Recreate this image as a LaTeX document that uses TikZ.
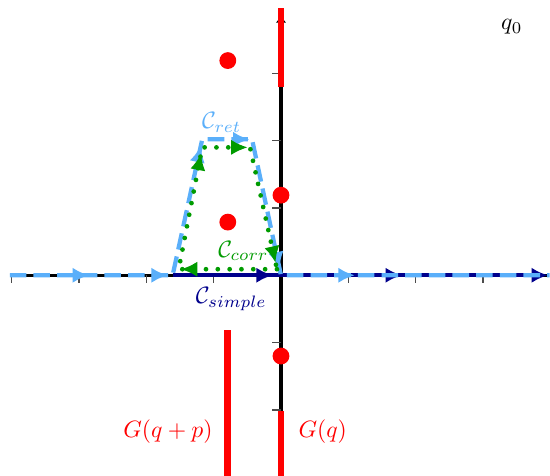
\documentclass[tikz,border=0pt]{standalone}
\usetikzlibrary{decorations.markings,arrows.meta}
\definecolor{retblue}{RGB}{90,175,250}
\definecolor{simpnavy}{RGB}{0,0,140}
\definecolor{corrgreen}{RGB}{0,155,0}
\tikzset{
  axisline/.style={black, line width=1.4pt},
  tickmark/.style={black!70, line width=0.6pt},
  redbar/.style={red, line width=2.9pt},
  pole/.style={fill=red, circle, inner sep=0pt, minimum size=0.25cm},
  tipmark/.style={postaction={decorate, decoration={markings,
      mark=at position #1 with {\arrow{Latex[length=7pt,width=6.5pt]}}}}},
  retpath/.style={retblue, line width=1.8pt, dash pattern=on 7pt off 3pt},
  simppath/.style={simpnavy, line width=1.8pt},
  corrpath/.style={corrgreen, line width=2pt, line cap=round, dash pattern=on 0pt off 5pt},
  lbl/.style={inner sep=0pt}
}
\begin{document}
\begin{tikzpicture}
\useasboundingbox (-4.175,-2.98) rectangle (3.997,4.09);
% axes
\draw[axisline] (-4.03,0) -- (3.97,0);
\draw[axisline, -{Latex[length=3pt,width=4.5pt,open]}] (0,-2.98) -- (0,3.86);
% ticks
\foreach \x in {-4,-3,-2,-1,1,2,3} \draw[tickmark] (\x,0) -- (\x,-0.11);
\foreach \y in {-2,-1,1,2,3} \draw[tickmark] (0,\y) -- (-0.13,\y);
% C_simple
\draw[simppath, tipmark=1.49cm, tipmark=3.41cm, -{Latex[length=7pt,width=6.5pt]}] (-1.61,0) -- (3.97,0);
% C_ret
\draw[retpath, tipmark=1.18cm, tipmark=2.35cm, tipmark=4.39cm, tipmark=5.19cm, tipmark=7.19cm, tipmark=8.39cm]
  (-4.03,0) -- (-1.61,0) -- (-1.17,2.02) -- (-0.43,2.02) -- (0,0) -- (3.99,0);
% C_corr
\draw[corrpath, tipmark=1.43cm, tipmark=3.21cm, tipmark=3.98cm, tipmark=5.77cm]
  (-0.06,0.09) -- (-1.52,0.09) -- (-1.17,1.9) -- (-0.46,1.9) -- cycle;
% cuts
\draw[redbar] (0,2.79) -- (0,3.97);
\draw[redbar] (0,-2.02) -- (0,-2.98);
\draw[redbar] (-0.79,-0.82) -- (-0.79,-2.98);
% poles
\node[pole] (p1) at (-0.79,3.19) {};
\node[pole] (p2) at (-0.79,0.79) {};
\node[pole] (p3) at (0,1.19) {};
\node[pole] (p4) at (0,-1.2) {};
% labels
\node[lbl, text=retblue] (lret) at (-0.88,2.27) {$\mathcal{C}_{ret}$};
\node[lbl, text=corrgreen] (lcorr) at (-0.56,0.36) {$\mathcal{C}_{corr}$};
\node[lbl, text=simpnavy] (lsimp) at (-0.74,-0.35) {$\mathcal{C}_{simple}$};
\node[lbl, text=red] (lgqp) at (-1.68,-2.33) {$G(q+p)$};
\node[lbl, text=red] (lgq) at (0.62,-2.33) {$G(q)$};
\node[lbl] (lq0) at (3.43,3.69) {$q_0$};
\end{tikzpicture}
\end{document}
